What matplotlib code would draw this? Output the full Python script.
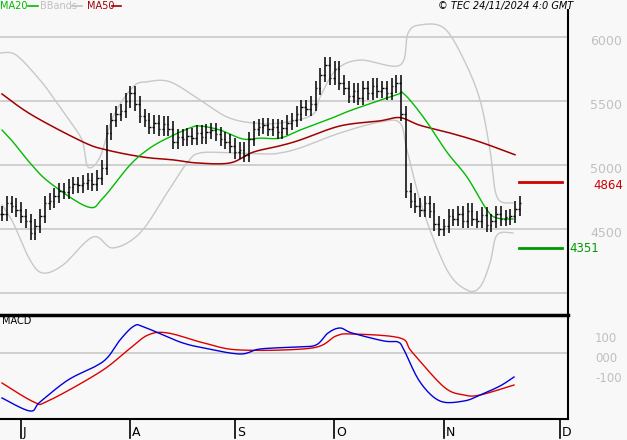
import matplotlib
matplotlib.use("Agg")
import matplotlib.pyplot as plt
import numpy as np

# ---- data ----
closes = [4620,4700,4680,4650,4600,4560,
          4470,4520,4600,4700,4720,
          4760,4800,4790,4830,4850,
          4840,4860,4880,4850,4900,
          4980,5250,5350,5400,5420,
          5500,5560,5480,5380,5350,
          5300,5330,5280,5320,5280,
          5180,5220,5200,5230,5210,
          5250,5220,5260,5270,5240,
          5200,5180,5150,5100,5120,
          5080,5200,5280,5300,5310,
          5280,5300,5260,5290,5330,
          5350,5400,5450,5440,5480,
          5600,5700,5780,5680,5750,
          5640,5600,5540,5580,5520,
          5600,5560,5620,5580,5600,
          5560,5620,5640,5400,4800,
          4720,4680,4650,4700,4640,
          4540,4500,4520,4600,4580,
          4620,4560,4640,4580,4560,
          4610,4530,4560,4620,4580,
          4590,4600,4660,4700]
first_index = -4

ma50_x = [2,32,83,107,143,173,197,230,253,280,300,340,380,400,420,450,480,515]
ma50_v = [5555,5390,5180,5117,5062,5040,5016,5016,5100,5150,5195,5305,5345,5370,5310,5250,5180,5080]

ma20_x = [2,13,30,50,88,103,130,150,170,190,200,220,243,260,280,300,332,352,396,404,424,447,467,487,497,513]
ma20_v = [5273,5180,5016,4860,4672,4742,5000,5133,5220,5290,5305,5273,5203,5210,5210,5273,5367,5430,5547,5555,5367,5100,4906,4648,4586,4578]

bbu_x = [0,16,40,55,67,82,88,100,113,133,147,170,200,227,253,280,312,320,336,360,400,408,420,444,464,480,490,497,513]
bbu_v = [5875,5860,5664,5508,5375,5195,4984,5062,5375,5610,5650,5650,5508,5375,5328,5328,5390,5530,5742,5820,5780,6030,6094,6070,5820,5508,5117,4750,4703]

bbl_x = [2,13,30,43,63,93,113,140,167,187,200,233,267,280,300,340,380,400,407,423,447,467,480,490,497,513]
bbl_v = [4688,4550,4258,4156,4219,4438,4352,4469,4781,5016,5094,5094,5086,5094,5133,5250,5336,5328,5117,4648,4180,4023,4047,4234,4453,4469]

macd_x = [2,30,40,68,96,108,120,134,144,180,204,240,260,296,316,328,340,352,384,398,404,420,440,464,480,500,514]
macd_v = [-225,-290,-245,-135,-65,-20,65,135,130,55,25,-5,20,30,40,100,125,100,60,55,15,-145,-240,-240,-210,-165,-120]
sig_x = [2,34,48,100,128,148,168,204,240,312,336,352,400,412,444,464,480,514]
sig_v = [-150,-245,-240,-95,15,90,100,50,15,25,85,95,75,5,-170,-210,-210,-160]

month_labels = ["J","A","S","O","N","D"]
month_idx = [0,23,45,66,89,113.4]
price_ticks = [4500,5000,5500,6000]
macd_ticks = [100,0,-100]
macd_tick_labels = ["100","000","-100"]
res_level, sup_level = 4864, 4351

# ---- layout helpers ----
W, H = 627, 440
def px2i(x):
    return (np.asarray(x, float) - 21) / 4.75

def smooth(x, y, n=12):
    """Catmull-Rom curve through the given points (drawing only)."""
    x = np.asarray(x, float); y = np.asarray(y, float)
    P = np.column_stack([x, y])
    P = np.vstack([P[0], P, P[-1]])
    out = []
    t = np.linspace(0, 1, n, endpoint=False)[:, None]
    for k in range(1, len(P) - 2):
        p0, p1, p2, p3 = P[k-1], P[k], P[k+1], P[k+2]
        seg = 0.5 * ((2*p1) + (-p0 + p2)*t + (2*p0 - 5*p1 + 4*p2 - p3)*t**2 + (-p0 + 3*p1 - 3*p2 + p3)*t**3)
        out.append(seg)
    out.append(P[-2][None, :])
    out = np.vstack(out)
    return out[:, 0], out[:, 1]

BG = "#f8f8f8"
fig = plt.figure(figsize=(W/100, H/100), dpi=100, facecolor=BG)
ax = fig.add_axes([0, (H-315)/H, 568/W, 305/H], facecolor=BG)
axm = fig.add_axes([0, (H-419)/H, 568/W, 104/H], facecolor=BG)

xl = (px2i(0), px2i(568))
for a in (ax, axm):
    a.set_xlim(*xl)
    for s in a.spines.values():
        s.set_visible(False)
    a.tick_params(left=False, right=False, labelleft=False, labelright=False,
                  bottom=False, labelbottom=False)

ax.set_ylim(3828, 6211)
for p in [4000] + price_ticks:
    ax.axhline(p, color="#c8c8c8", lw=1.2, zorder=0)

# bars
idx = np.arange(first_index, first_index + len(closes))
opens = [closes[0]] + closes[:-1]
for i, o, c in zip(idx, opens, closes):
    hi = max(o, c) + 60
    lo = min(o, c) - 55
    ax.vlines(i, lo, hi, color="black", lw=1.1, zorder=3)
    ax.hlines(o, i - 0.35, i, color="black", lw=1.0, zorder=3)
    ax.hlines(c, i, i + 0.35, color="black", lw=1.0, zorder=3)

for xs, vs, col, lw, z in [(bbu_x, bbu_v, "#c8c8c8", 1.0, 1), (bbl_x, bbl_v, "#c8c8c8", 1.0, 1),
                           (ma50_x, ma50_v, "#a00000", 1.1, 2), (ma20_x, ma20_v, "#00bb00", 1.0, 2)]:
    sx, sy = smooth(px2i(xs), vs)
    ax.plot(sx, sy, color=col, lw=lw, zorder=z)

# right side annotations
ax.plot([px2i(519), px2i(562)], [res_level]*2, color="#cc0000", lw=2, clip_on=False)
ax.plot([px2i(519), px2i(562)], [sup_level]*2, color="#009900", lw=2, clip_on=False)
ax.text(px2i(593), res_level - 25, str(res_level), color="#cc0000", fontsize=8.5, va="center", ha="left", clip_on=False)
ax.text(px2i(569), sup_level, str(sup_level), color="#009900", fontsize=8.5, va="center", ha="left", clip_on=False)
for p in price_ticks:
    ax.text(px2i(590), p - 35, str(p), color="#c0c0c0", fontsize=9, va="center", ha="left", clip_on=False)

# MACD
axm.set_ylim(-330, 190)
axm.axhline(0, color="#c8c8c8", lw=1.2, zorder=0)
sx, sy = smooth(px2i(sig_x), sig_v)
axm.plot(sx, sy, color="#dd0000", lw=1.0)
sx, sy = smooth(px2i(macd_x), macd_v)
axm.plot(sx, sy, color="#0000dd", lw=1.0)
axm.text(px2i(2), 160, "MACD", fontsize=7, va="center", ha="left")
for v, lab in zip(macd_ticks, macd_tick_labels):
    axm.text(px2i(595), v - 25, lab, color="#c0c0c0", fontsize=8.5, va="center", ha="left", clip_on=False)

# frame lines (figure coords)
def fx(x): return x / W
def fy(y): return 1 - y / H
fig.add_artist(plt.Line2D([fx(568), fx(568)], [fy(10), fy(419)], color="black", lw=1.5))
fig.add_artist(plt.Line2D([0, fx(568)], [fy(315), fy(315)], color="black", lw=2.5))
fig.add_artist(plt.Line2D([0, fx(568)], [fy(419), fy(419)], color="black", lw=1.5))
for m, lab in zip(month_idx, month_labels):
    x = 21 + 4.75 * m
    fig.add_artist(plt.Line2D([fx(x), fx(x)], [fy(419), fy(438)], color="black", lw=1.2))
    fig.text(fx(x + 2), fy(432), lab, fontsize=9, va="center", ha="left")

# header
fig.text(fx(0), fy(6), "MA20", color="#00bb00", fontsize=7, va="center")
fig.add_artist(plt.Line2D([fx(28), fx(38)], [fy(6), fy(6)], color="#00bb00", lw=1.2))
fig.text(fx(40), fy(6), "BBands", color="#c0c0c0", fontsize=7, va="center")
fig.add_artist(plt.Line2D([fx(72), fx(82)], [fy(6), fy(6)], color="#c0c0c0", lw=1.2))
fig.text(fx(87), fy(6), "MA50", color="#a00000", fontsize=7, va="center")
fig.add_artist(plt.Line2D([fx(112), fx(121)], [fy(6), fy(6)], color="#a00000", lw=1.2))
fig.text(fx(573), fy(6), "© TEC 24/11/2024 4:0 GMT", fontsize=7, style="italic", va="center", ha="right")

fig.savefig("out.png", dpi=100, facecolor=BG)
